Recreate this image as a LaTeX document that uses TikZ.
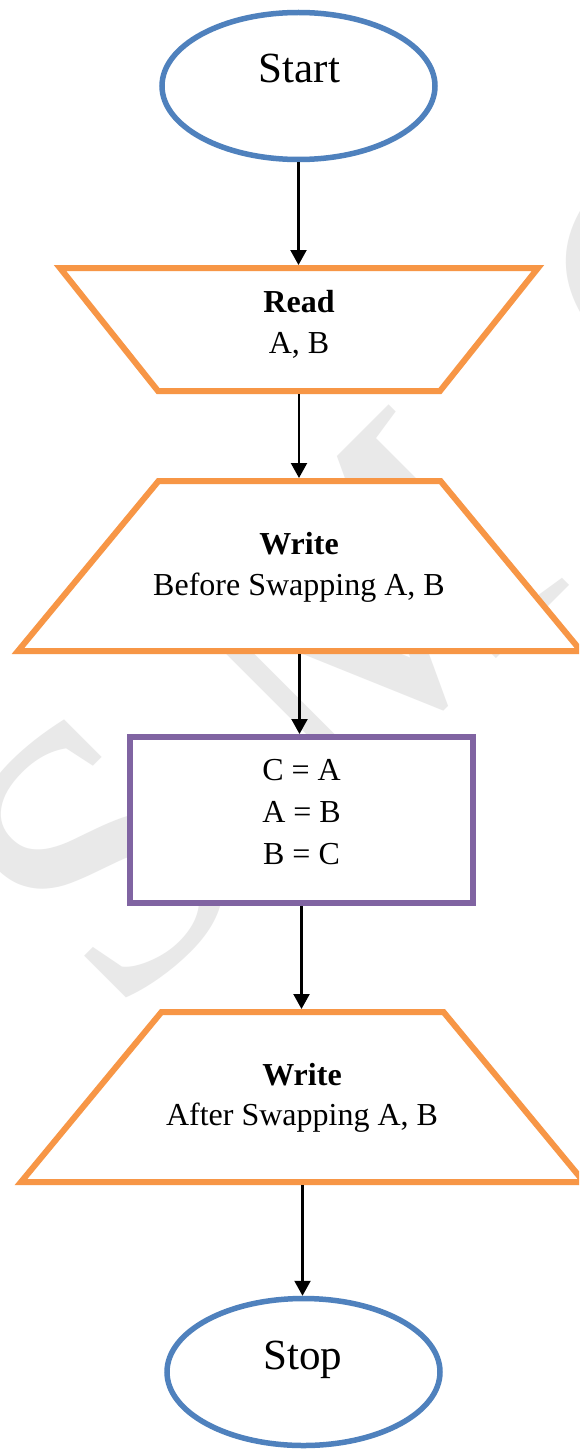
\documentclass[tikz,border=0pt]{standalone}
\usepackage{fontspec}
\setmainfont{Liberation Serif}
\usetikzlibrary{arrows.meta,calc,shapes.geometric}
\definecolor{obox}{HTML}{F79646}
\definecolor{bterm}{HTML}{4F81BD}
\definecolor{pproc}{HTML}{8064A2}
\definecolor{wmark}{HTML}{E9E9E9}
\begin{document}
\begin{tikzpicture}[x=1pt,y=-1pt,
  term/.style={ellipse, draw=bterm, line width=5.5pt, fill=white, minimum width=273pt, minimum height=147pt, inner sep=0pt},
  proc/.style={rectangle, draw=pproc, line width=6pt, fill=white, minimum width=343pt, minimum height=166pt, inner sep=0pt},
  holder/.style={rectangle, inner sep=0pt, outer sep=0pt},
  io/.style={draw=obox, line width=6pt, fill=white, line join=miter},
  txt/.style={anchor=base, inner sep=0pt, font=\fontsize{32}{38}\selectfont},
  txtb/.style={anchor=base, inner sep=0pt, font=\fontsize{32}{38}\selectfont\bfseries},
  big/.style={anchor=base, inner sep=0pt, font=\fontsize{43}{50}\selectfont},
  wm/.style={anchor=base west, inner sep=0pt, rotate=45, text=wmark, font=\fontsize{390}{390}\selectfont},
  flow/.style={draw=black, line width=2.2pt, -{Triangle[length=15pt,width=16pt]}},
]
\useasboundingbox (0,0) rectangle (579,1450);
\clip (0,0) rectangle (579,1450);
\fill[white] (0,0) rectangle (579,1450);

% watermark (faint, partly hidden by the shapes)
\node[wm] (wmS) at (114,1024) {S};
\node[wm] (wmM) at (332,823) {M};
\node[wm] (wmO) at (692,457) {O};

% terminals
\node[term] (start) at (298.5,86) {};
\node[big] (starttxt) at (299.5,83) {Start};

% read
\node[holder, minimum width=478pt, minimum height=123pt] (read) at (299,329.5) {};
\draw[io] (read.north west) -- (read.north east) -- ($(read.south east)+(-98,0)$) -- ($(read.south west)+(98,0)$) -- cycle;
\node[txtb] (readhd) at (299,312) {Read};
\node[txt] (readab) at (299,353) {A, B};

% write before
\node[holder, minimum width=563pt, minimum height=170pt] (wr1) at (299.5,566) {};
\draw[io] ($(wr1.north west)+(140.5,0)$) -- ($(wr1.north east)+(-140.5,0)$) -- (wr1.south east) -- (wr1.south west) -- cycle;
\node[txtb] (wr1hd) at (299,554) {Write};
\node[txt] (wr1tx) at (299,595) {Before Swapping A, B};

% process
\node[proc] (swap) at (301.5,820) {};
\node[txt] (sw1) at (301.5,780) {C = A};
\node[txt] (sw2) at (301.5,822) {A = B};
\node[txt] (sw3) at (301.5,864) {B = C};

% write after
\node[holder, minimum width=563pt, minimum height=170pt] (wr2) at (302.5,1097) {};
\draw[io] ($(wr2.north west)+(140.5,0)$) -- ($(wr2.north east)+(-140.5,0)$) -- (wr2.south east) -- (wr2.south west) -- cycle;
\node[txtb] (wr2hd) at (302,1085) {Write};
\node[txt] (wr2tx) at (302,1125) {After Swapping A, B};

% stop
\node[term] (stop) at (303.5,1372) {};
\node[big] (stoptxt) at (303,1369) {Stop};

% connectors
\draw[flow, shorten >=3pt] (start.south) -- (start.south |- read.north);
\draw[flow, shorten <=3pt, shorten >=3pt] (read.south) -- (read.south |- wr1.north);
\draw[flow, shorten <=3pt] (wr1.south) -- (wr1.south |- swap.north);
\draw[flow, shorten >=3pt] (swap.south) -- (swap.south |- wr2.north);
\draw[flow, shorten <=3pt] (wr2.south) -- (wr2.south |- stop.north);
\end{tikzpicture}
\end{document}
